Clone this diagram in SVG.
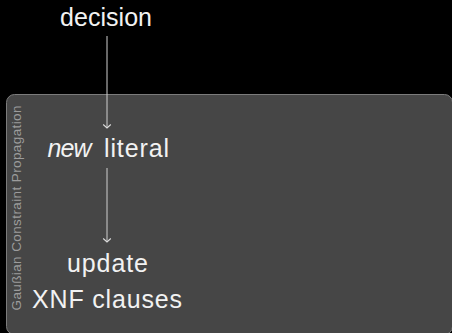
<svg xmlns="http://www.w3.org/2000/svg" width="452" height="333" viewBox="0 0 452 333">
  <style>
    .lbl { font-family: "Liberation Sans", Arial, sans-serif; font-size: 25px; fill: #f2f2f2; }
    .side { font-family: "Liberation Sans", Arial, sans-serif; font-size: 13.5px; fill: #9c9c9c; }
    .edge { stroke: #cfcfcf; stroke-width: 1; fill: none; marker-end: url(#head); }
  </style>
  <defs>
    <!-- open chevron head; orient="auto" aligns +x with the line direction -->
    <marker id="head" markerWidth="10" markerHeight="10" refX="6" refY="5" markerUnits="userSpaceOnUse" orient="auto" viewBox="0 0 10 10">
      <path d="M2.5,1.2 L6,5 L2.5,8.8" fill="none" stroke="#dcdcdc" stroke-width="1.1"/>
    </marker>
  </defs>
  <rect x="0" y="0" width="452" height="333" fill="#000"/>

  <!-- propagation panel -->
  <g id="panel">
    <rect x="6.5" y="94.5" width="446" height="240" rx="8" fill="#464646" stroke="#7c7c7c" stroke-width="1"/>
    <text class="side" transform="translate(21,310.5) rotate(-90)" textLength="205">Gaußian Constraint Propagation</text>
  </g>

  <g id="connectors">
    <path class="edge" d="M107,36 V128"/>
    <path class="edge" d="M107,168 V242"/>
  </g>

  <g id="decision">
    <text class="lbl" x="60" y="26" textLength="92">decision</text>
  </g>
  <g id="new-literal">
    <text class="lbl" y="157"><tspan x="47.5" font-style="italic" textLength="44">new</tspan><tspan x="104" textLength="65">literal</tspan></text>
  </g>
  <g id="update">
    <text class="lbl" x="67" y="272" textLength="81">update</text>
    <text class="lbl" x="32" y="308" textLength="150">XNF clauses</text>
  </g>
</svg>
